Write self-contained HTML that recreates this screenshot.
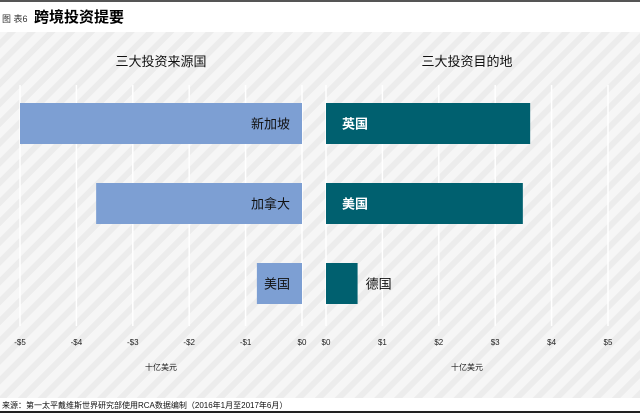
<!DOCTYPE html>
<html><head><meta charset="utf-8"><style>
body{margin:0;width:640px;height:413px;overflow:hidden;background:#fff;font-family:"Liberation Sans","Noto Sans CJK SC",sans-serif;}
</style></head><body>
<svg width="640" height="413" xmlns="http://www.w3.org/2000/svg">
<defs><pattern id="hatch" width="14" height="14" patternUnits="userSpaceOnUse" patternTransform="rotate(45)">
<rect width="14" height="14" fill="#f6f6f6"/><rect width="6" height="14" fill="#ececec"/></pattern></defs>
<rect x="0" y="0" width="640" height="2" fill="#555"/>
<text x="2" y="22" font-size="9" fill="#333">图 表6</text>
<text x="34" y="22" font-size="15" font-weight="bold" fill="#000">跨境投资提要</text>
<rect x="0" y="32" width="640" height="366" fill="url(#hatch)"/>
<text x="161" y="66" font-size="13" text-anchor="middle" fill="#111">三大投资来源国</text>
<text x="467" y="66" font-size="13" text-anchor="middle" fill="#111">三大投资目的地</text>
<g id="grid"></g><g id="bars"></g><g id="ticks"></g>
<text x="161" y="370" font-size="8" text-anchor="middle" fill="#222">十亿美元</text>
<text x="467" y="370" font-size="8" text-anchor="middle" fill="#222">十亿美元</text>
<text x="2" y="408" font-size="8" fill="#111">来源：第一太平戴维斯世界研究部使用RCA数据编制（2016年1月至2017年6月）</text>
<rect x="0" y="411" width="640" height="2" fill="#222"/>
</svg>
<script>
const sourceCats=["新加坡","加拿大","美国"];
const sourceVals=[-5.0,-3.65,-0.8];
const destCats=["英国","美国","德国"];
const destVals=[3.62,3.49,0.56];
const leftTicks=["-$5","-$4","-$3","-$2","-$1","$0"];
const rightTicks=["$0","$1","$2","$3","$4","$5"];
const NS="http://www.w3.org/2000/svg";
const U=56.4;
const xl=v=>302+v*U, xr=v=>326+v*U;
const yb=i=>103+i*80, BH=41;
function mk(tag,a,p){const e=document.createElementNS(NS,tag);for(const k in a)e.setAttribute(k,a[k]);p.appendChild(e);return e;}
const grid=document.getElementById('grid'),bars=document.getElementById('bars'),ticks=document.getElementById('ticks');
for(let i=0;i<=5;i++){
 [[xl(-5+i),leftTicks[i]],[xr(i),rightTicks[i]]].forEach(([x,l])=>{
  const g=mk('line',{x1:x,x2:x,y1:85,y2:326,stroke:'#fff','stroke-width':1.5},grid);
  
  
  const t=mk('text',{x:x,y:345,'font-size':8,'text-anchor':'middle',fill:'#222'},ticks);
  t.textContent=l;
  
  
 });
}
sourceVals.forEach((v,i)=>{
 const r=mk('rect',{x:xl(v),y:yb(i),width:xl(0)-xl(v),height:BH,fill:'#7d9fd3'},bars);
 
 
 const t=mk('text',{x:xl(0)-12,y:yb(i)+BH/2+5,'font-size':13,'text-anchor':'end',fill:'#111'},bars);
 t.textContent=sourceCats[i];
 
 
});
destVals.forEach((v,i)=>{
 const r=mk('rect',{x:xr(0),y:yb(i),width:xr(v)-xr(0),height:BH,fill:'#00606f'},bars);
 
 
 const inside=v>1;
 const t=mk('text',{x:inside?xr(0)+16:xr(v)+8,y:yb(i)+BH/2+5,'font-size':13,fill:inside?'#fff':'#111','font-weight':inside?'bold':'normal'},bars);
 t.textContent=destCats[i];
 
 
});
</script>
</body></html>
